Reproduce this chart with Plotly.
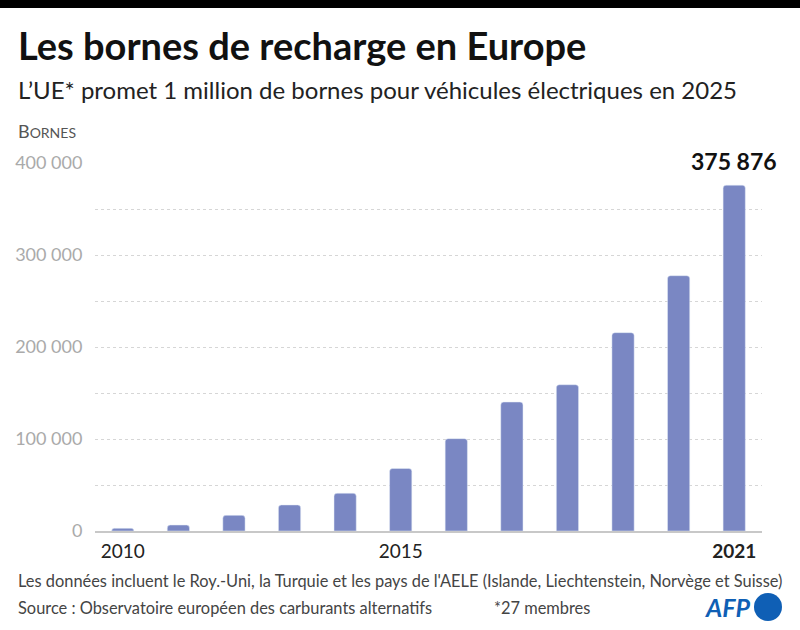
import plotly.graph_objects as go

# data
years = [2010, 2011, 2012, 2013, 2014, 2015, 2016, 2017, 2018, 2019, 2020, 2021]
bornes = [2900, 6500, 17000, 28300, 41000, 68000, 100400, 140200, 159000, 215600, 277500, 375876]

ytick_vals = [0, 100000, 200000, 300000, 400000]
ytick_text = ["0", "100 000", "200 000", "300 000", "400 000"]
xtick_vals = [2010, 2015, 2021]
xtick_text = ["2010", "2015", "<b>2021</b>"]

FONT = "Lato, sans-serif"
BAR = "#7a87c3"

fig = go.Figure()
fig.add_trace(go.Bar(
    x=years, y=bornes,
    marker=dict(color=BAR, cornerradius=3),
    width=0.4,
    hoverinfo="x+y",
))

# label above the last bar
fig.add_annotation(
    x=years[-1], y=bornes[-1], xref="x", yref="y",
    text="<b>375 876</b>", showarrow=False,
    yanchor="bottom", yshift=8,
    font=dict(family=FONT, size=23, color="#111"),
)

# titles and notes
def note(text, px, py, size, color, anchor="left"):
    fig.add_annotation(
        x=(px - 95) / 667, y=(531 - py) / 368, xref="paper", yref="paper",
        text=text, showarrow=False, xanchor=anchor, yanchor="middle",
        font=dict(family=FONT, size=size, color=color),
    )

note("<b>Les bornes de recharge en Europe</b>", 16, 45, 38, "#111")
note("L’UE* promet 1 million de bornes pour véhicules électriques en 2025", 16, 89, 24, "#222")
note("B<span style='font-size:14px'>ORNES</span>", 16, 131, 18, "#555")
note("Les données incluent le Roy.-Uni, la Turquie et les pays de l'AELE (Islande, Liechtenstein, Norvège et Suisse)",
     16, 580, 16.4, "#444")
note("Source : Observatoire européen des carburants alternatifs", 16, 607, 16.4, "#444")
note("*27 membres", 492, 607, 16.4, "#444")

# AFP logo
note("<b><i>AFP</i></b>", 753, 607, 25, "#0f5fb5", anchor="right")
fig.add_shape(type="circle", xref="paper", yref="paper",
              x0=(754 - 95) / 667, x1=(782 - 95) / 667,
              y0=(531 - 621) / 368, y1=(531 - 593) / 368,
              fillcolor="#0f5fb5", line=dict(width=0))

# black band on top
fig.add_shape(type="rect", xref="paper", yref="paper",
              x0=-0.2, x1=1.2, y0=(531 - 8) / 368, y1=(531 + 10) / 368,
              fillcolor="#000", line=dict(width=0), layer="above")

fig.update_layout(
    width=800, height=630,
    margin=dict(l=95, r=38, t=163, b=99),
    paper_bgcolor="white", plot_bgcolor="white",
    showlegend=False,
    font=dict(family=FONT),
    bargap=0.6,
)
fig.update_xaxes(
    range=[2009.5, 2021.5],
    tickvals=xtick_vals, ticktext=xtick_text,
    tickfont=dict(family=FONT, size=19, color="#222"),
    ticks="outside", ticklen=2, tickcolor="rgba(0,0,0,0)",
    showgrid=False, showline=True, linecolor="#c8c8c8", linewidth=1.5,
    zeroline=False,
)
fig.update_yaxes(
    range=[0, 400000],
    tickvals=ytick_vals, ticktext=ytick_text,
    tickfont=dict(family=FONT, size=18, color="#aaa"),
    ticks="outside", ticklen=8, tickcolor="rgba(0,0,0,0)",
    showgrid=True, gridcolor="#d6d6d6", griddash="dot", gridwidth=1,
    minor=dict(dtick=50000, tick0=0, showgrid=True, gridcolor="#d6d6d6", griddash="dot", gridwidth=1),
    zeroline=False, showline=False,
)

fig.write_html("out.html", config={"displayModeBar": False},
               post_script="document.body.style.margin='0';")
